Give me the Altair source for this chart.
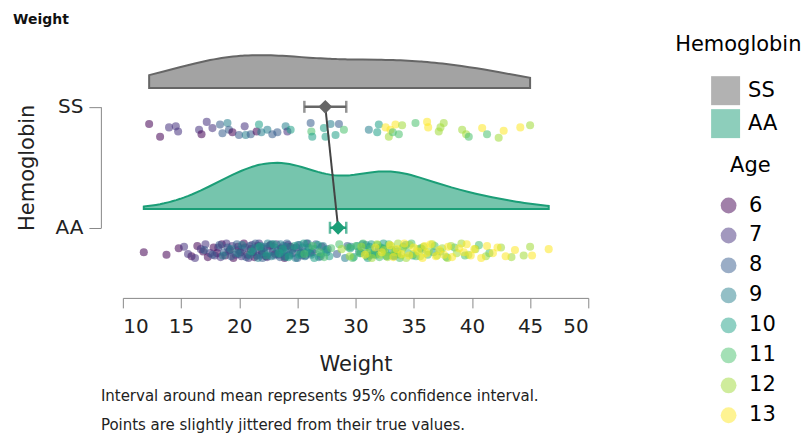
import altair as alt
import pandas as pd

FONT = "DejaVu Sans"

hemo_levels = ["SS", "AA"]
hemo_colors = ["#666666", "#1b9e77"]
age_levels = [6, 7, 8, 9, 10, 11, 12, 13]
age_colors = ["#440154", "#46327e", "#365c8d", "#277f8e", "#1fa187", "#4ac16d", "#a0da39", "#fde725"]

# SS children: (weight, age, vertical jitter in [-1, 1])
ss_points = [
    (12.26, 6, -0.73), (13.2, 6, 0.87), (13.97, 7, -0.3), (14.55, 7, -0.43), (14.75, 7, 0.22),
    (16.55, 7, 0.0), (16.76, 6, 0.57), (17.21, 7, -0.99), (17.7, 7, -0.21), (18.35, 8, -0.65),
    (18.56, 8, 0.44), (18.99, 9, -0.86), (19.12, 8, 0.0), (19.42, 6, 0.31), (19.98, 8, 0.65),
    (20.47, 7, -0.43), (20.56, 9, 0.65), (20.99, 8, 0.57), (21.5, 6, 0.22), (21.7, 10, -0.65),
    (21.9, 9, 0.31), (22.42, 9, 0.0), (22.85, 8, 0.57), (23.28, 8, 0.31), (23.99, 9, -0.43),
    (24.14, 7, 0.22), (24.42, 10, 0.0), (26.14, 8, -0.86), (26.2, 11, 0.22), (26.28, 10, 0.87),
    (27.28, 10, -0.21), (27.42, 10, 0.87), (27.85, 9, -0.73), (28.57, 8, -0.73), (29.0, 11, 0.0),
    (28.28, 10, 0.65), (31.14, 9, 0.0), (31.86, 10, 0.31), (32.0, 10, -0.65), (32.58, 13, -0.3),
    (32.86, 12, 0.87), (33.0, 13, 0.0), (33.2, 11, 0.31), (33.43, 13, -0.65), (33.72, 11, 0.57),
    (34.0, 12, -0.56), (35.15, 11, -0.86), (36.15, 13, -0.99), (36.24, 13, -0.3), (37.15, 12, 0.22),
    (37.3, 12, -0.3), (37.58, 12, -0.86), (39.16, 12, 0.0), (39.5, 12, 0.57), (39.73, 11, 0.87),
    (40.88, 13, -0.21), (41.3, 11, 0.57), (42.3, 12, 1.0), (42.73, 13, 0.13), (44.16, 13, -0.3),
    (45.0, 12, -0.56),
]

# AA children by age: (weight, vertical jitter in [-1, 1])
aa_age6 = [
    (11.8, 0.2), (13.75, 0.5), (14.8, -0.3), (15.9, 0.7), (16.4, -0.6), (16.9, 0.1), (17.3, 0.8),
    (17.8, -0.4), (18.1, 0.3), (18.5, -0.8), (18.8, 0.6), (19.2, -0.1), (19.5, 0.9), (19.9, -0.5),
    (20.1, 0.2), (20.4, -0.9), (20.7, 0.5), (21.0, -0.2), (21.3, 0.8), (21.6, -0.6), (21.9, 0.0),
    (22.3, 0.7), (22.7, -0.7), (23.1, 0.4), (23.6, -0.3), (23.9, 0.9), (24.4, -0.5), (25.3, 0.3),
]
aa_age7 = [
    (15.26, -0.5), (15.6, 0.4), (16.2, 0.9), (16.7, -0.2), (17.1, -0.8), (17.5, 0.3), (17.9, 0.6),
    (18.2, -0.4), (18.4, 0.8), (18.9, -0.9), (19.1, 0.1), (19.4, -0.6), (19.7, 0.5), (19.95, -0.1),
    (20.2, 0.7), (20.5, -0.4), (20.8, 0.9), (21.1, -0.7), (21.2, 0.2), (21.5, 0.6), (21.7, -0.9),
    (21.95, 0.4), (22.1, -0.3), (22.4, 0.8), (22.6, -0.6), (22.9, 0.1), (23.2, -0.8), (23.4, 0.5),
    (23.7, -0.2), (23.95, 0.7), (24.2, -0.7), (24.6, 0.3), (24.9, -0.4), (25.4, 0.6), (25.8, -0.9),
    (26.3, 0.2), (27.1, -0.5),
]
aa_age8 = [
    (17.0, -0.1), (17.7, 0.5), (18.3, -0.7), (18.7, 0.2), (19.0, -0.4), (19.3, 0.7), (19.8, -0.8),
    (20.0, 0.4), (20.3, -0.2), (20.6, 0.8), (20.9, -0.6), (21.2, 0.1), (21.4, -0.9), (21.8, 0.6),
    (21.9, -0.3), (22.0, 0.9), (22.2, -0.5), (22.5, 0.3), (22.8, -0.8), (23.0, 0.6), (23.3, -0.1),
    (23.5, 0.8), (23.8, -0.6), (24.0, 0.2), (24.1, -0.9), (24.3, 0.5), (24.7, -0.3), (25.0, 0.9),
    (25.2, -0.7), (25.5, 0.1), (25.7, 0.6), (25.95, -0.4), (26.1, 0.3), (26.6, -0.8), (27.0, 0.7),
    (27.6, -0.2), (28.4, 0.4), (29.3, -0.6),
]
aa_age9 = [
    (18.6, 0.6), (19.3, -0.2), (19.85, 0.3), (20.25, -0.7), (20.9, 0.5), (21.35, -0.3), (21.6, 0.9),
    (21.85, -0.6), (22.15, 0.2), (22.45, -0.9), (22.75, 0.7), (23.05, -0.4), (23.35, 0.4),
    (23.55, -0.8), (23.85, 0.1), (23.95, 0.8), (24.05, -0.5), (24.35, 0.6), (24.55, -0.1),
    (24.85, 0.9), (25.05, -0.7), (25.25, 0.3), (25.45, -0.4), (25.65, 0.7), (25.9, -0.9),
    (26.2, 0.5), (26.5, -0.2), (26.85, 0.8), (27.2, -0.6), (27.5, 0.2), (30.6, -0.8), (31.2, 0.6),
    (32.0, -0.3), (29.1, 0.9), (29.6, -0.5), (30.3, 0.1), (30.9, -0.7), (31.5, 0.4), (32.4, -0.2),
    (33.3, 0.7),
]
aa_age10 = [
    (21.05, 0.1), (21.75, -0.5), (22.35, 0.6), (22.95, -0.8), (23.45, 0.3), (23.75, -0.2),
    (24.25, 0.8), (24.75, -0.6), (25.15, 0.5), (25.55, -0.9), (25.85, 0.2), (26.05, -0.3),
    (26.45, 0.9), (26.75, -0.7), (27.05, 0.4), (27.45, -0.1), (27.75, 0.7), (31.2, -0.5),
    (31.6, 0.2), (32.4, -0.9), (33.3, 0.6), (29.55, -0.3), (29.85, 0.8), (30.15, -0.6),
    (30.45, 0.3), (30.75, -0.2), (31.05, 0.9), (31.35, -0.8), (31.75, 0.5), (32.15, -0.4),
    (32.65, 0.7), (33.1, -0.1), (33.6, 0.4), (34.3, -0.7), (34.9, 0.6), (35.6, -0.3), (36.7, 0.2),
]
aa_age11 = [
    (25.6, 0.4), (26.3, -0.6), (26.9, 0.2), (27.3, 0.8), (27.9, -0.3), (32.7, 0.6), (28.6, -0.8),
    (33.6, 0.1), (29.4, -0.4), (29.75, 0.9), (30.05, -0.6), (30.35, 0.3), (30.65, -0.9),
    (30.95, 0.7), (31.25, -0.2), (31.55, 0.5), (31.9, -0.7), (32.05, 0.8), (32.35, -0.3),
    (32.55, 0.2), (32.85, -0.8), (33.15, 0.6), (33.45, -0.1), (33.8, 0.9), (34.1, -0.5),
    (34.5, 0.3), (34.8, -0.9), (35.2, 0.7), (35.7, -0.2), (36.2, 0.5), (36.8, -0.6), (37.3, 0.1),
    (37.8, 0.8), (38.5, -0.4), (39.4, 0.6), (40.6, -0.7), (41.5, 0.3),
]
aa_age12 = [
    (28.8, -0.2), (29.5, 0.7), (30.5, -0.5), (31.0, 0.3), (31.4, 0.9), (31.85, -0.8), (32.1, 0.5),
    (32.45, -0.1), (32.75, 0.8), (33.05, -0.6), (33.35, 0.2), (33.65, -0.9), (33.9, 0.6),
    (34.05, -0.3), (34.35, 0.9), (34.65, -0.7), (34.95, 0.4), (35.3, -0.2), (35.55, 0.7),
    (35.85, -0.5), (36.3, 0.1), (36.6, -0.8), (37.0, 0.6), (37.45, -0.3), (37.9, 0.9),
    (38.2, -0.6), (38.7, 0.3), (39.1, -0.9), (39.7, 0.5), (40.3, -0.2), (41.2, 0.7), (42.5, -0.4),
    (43.4, 0.8), (44.45, 0.6), (45.0, -0.5),
]
aa_age13 = [
    (30.8, 0.5), (31.7, -0.4), (32.25, 0.2), (32.95, -0.7), (33.25, 0.8), (33.55, -0.2),
    (33.95, 0.4), (34.2, -0.9), (34.6, 0.6), (35.0, -0.4), (35.4, 0.1), (35.75, 0.9), (35.95, -0.6),
    (36.1, 0.3), (36.45, -0.8), (36.9, 0.7), (37.2, -0.1), (37.6, 0.5), (37.95, -0.5), (38.3, 0.8),
    (38.9, -0.3), (39.3, 0.2), (39.55, -0.8), (39.9, 0.6), (40.2, -0.2), (40.8, 0.9), (41.3, -0.6),
    (41.8, 0.3), (42.2, -0.4), (42.9, 0.7), (43.7, -0.1), (45.17, 0.6), (46.6, -0.2),
]

# mean and 95% CI per group
mean_weight = [27.4, 28.5]
ci_low = [25.6, 27.8]
ci_high = [29.2, 29.2]

x_ticks = [10, 15, 20, 25, 30, 35, 40, 45, 50]
footnotes = [
    "Interval around mean represents 95% confidence interval.",
    "Points are slightly jittered from their true values.",
]

# ---------------- tables ----------------
rows = [{"Hemoglobin": "SS", "Weight": w, "Age": a, "Jitter": j} for w, a, j in ss_points]
aa_by_age = {6: aa_age6, 7: aa_age7, 8: aa_age8, 9: aa_age9, 10: aa_age10,
             11: aa_age11, 12: aa_age12, 13: aa_age13}
for age, pts in aa_by_age.items():
    rows += [{"Hemoglobin": "AA", "Weight": w, "Age": age, "Jitter": j} for w, j in pts]
points_df = pd.DataFrame(rows)

stats_df = pd.DataFrame({"Hemoglobin": hemo_levels, "mean": mean_weight,
                         "lo": ci_low, "hi": ci_high})

W, H = 466, 264
Y_DOMAIN = [-0.58, 1.6]
px_per_unit = H / (Y_DOMAIN[1] - Y_DOMAIN[0])
ss_px = (Y_DOMAIN[1] - 1) * px_per_unit
aa_px = (Y_DOMAIN[1] - 0) * px_per_unit

x_scale = alt.Scale(domain=[10, 50], nice=False)
x_axis = alt.Axis(values=x_ticks, title="Weight", grid=False, tickSize=10, domainColor="#888",
                  tickColor="#888", labelFontSize=20, titleFontSize=21, titleFontWeight="normal",
                  labelFontWeight="normal", labelColor="#222", titleColor="#222",
                  labelPadding=9, titlePadding=17)
yq_scale = alt.Scale(domain=Y_DOMAIN, nice=False, zero=False)
color_scale = alt.Scale(domain=hemo_levels, range=hemo_colors)
y_nom = alt.Y("Hemoglobin:N",
              scale=alt.Scale(type="point", domain=hemo_levels, range=[ss_px, aa_px], padding=0),
              axis=alt.Axis(orient="left", title="Hemoglobin", offset=22, tickSize=12,
                            domainColor="#888", tickColor="#888", labelFontSize=20,
                            labelFontWeight="normal", titleFontSize=21, titleFontWeight="normal",
                            labelColor="#222", titleColor="#222", labelPadding=6,
                            titlePadding=18))

hemo_legend = alt.Legend(title="Hemoglobin", symbolType="square", symbolSize=841,
                         symbolOpacity=0.5, symbolStrokeWidth=0, symbolOffset=36,
                         labelFontSize=21, titleFontSize=21, titleFontWeight="normal",
                         rowPadding=4, titlePadding=21, labelOffset=8, padding=0, offset=86)
age_legend = alt.Legend(title="Age", symbolType="circle", symbolSize=250, symbolOpacity=0.5,
                        symbolStrokeWidth=0, labelFontSize=21, titleFontSize=21,
                        titleFontWeight="normal", rowPadding=8, titlePadding=19,
                        titleAnchor="middle", titleAlign="left", labelOffset=10,
                        symbolOffset=34, padding=9, offset=86)

base_pts = alt.Chart(points_df)

cloud = base_pts.transform_density(
    "Weight", groupby=["Hemoglobin"], as_=["Weight", "density"], resolve="independent"
).transform_calculate(
    base="datum.Hemoglobin == 'SS' ? 1 : 0"
).transform_calculate(
    y0="datum.base + 0.155", y1="datum.base + 0.155 + datum.density * 7.5"
).mark_area(fillOpacity=0.6, strokeWidth=2).encode(
    x=alt.X("Weight:Q", scale=x_scale, axis=x_axis),
    y=alt.Y("y1:Q", scale=yq_scale, axis=None),
    y2="y0:Q",
    color=alt.Color("Hemoglobin:N", scale=color_scale, legend=hemo_legend),
    stroke=alt.Stroke("Hemoglobin:N", scale=color_scale, legend=None),
)

rain = base_pts.transform_calculate(
    base="datum.Hemoglobin == 'SS' ? 1 : 0"
).transform_calculate(
    yp="datum.base - 0.19 - datum.Jitter * 0.066"
).mark_circle(size=65, opacity=0.55).encode(
    x=alt.X("Weight:Q", scale=x_scale),
    y=alt.Y("yp:Q", scale=yq_scale, axis=None),
    fill=alt.Fill("Age:O", scale=alt.Scale(domain=age_levels, range=age_colors),
                  legend=age_legend),
)

base_st = alt.Chart(stats_df)
ci_rule = base_st.mark_rule(strokeWidth=2.5).encode(
    x=alt.X("lo:Q", scale=x_scale), x2="hi:Q", y=y_nom,
    color=alt.Color("Hemoglobin:N", scale=color_scale, legend=hemo_legend))
cap_lo = base_st.mark_tick(orient="vertical", thickness=2.5, size=12).encode(
    x=alt.X("lo:Q", scale=x_scale), y=alt.Y("Hemoglobin:N"),
    color=alt.Color("Hemoglobin:N", scale=color_scale, legend=hemo_legend))
cap_hi = base_st.mark_tick(orient="vertical", thickness=2.5, size=12).encode(
    x=alt.X("hi:Q", scale=x_scale), y=alt.Y("Hemoglobin:N"),
    color=alt.Color("Hemoglobin:N", scale=color_scale, legend=hemo_legend))
link = base_st.mark_line(color="#444", strokeWidth=2).encode(
    x=alt.X("mean:Q", scale=x_scale), y=alt.Y("Hemoglobin:N"))
diamond = base_st.mark_point(shape="diamond", filled=True, size=190, opacity=1).encode(
    x=alt.X("mean:Q", scale=x_scale), y=alt.Y("Hemoglobin:N"),
    color=alt.Color("Hemoglobin:N", scale=color_scale, legend=hemo_legend))

summary = alt.layer(ci_rule, cap_lo, cap_hi, link, diamond)

main = alt.layer(cloud, rain, summary).resolve_scale(
    y="independent"
).properties(
    width=W, height=H,
    title=alt.TitleParams(footnotes, orient="bottom", anchor="start", frame="group", dx=-22,
                          fontSize=15, fontWeight="normal", lineHeight=29, offset=14,
                          color="#222", font=FONT),
)

chart = alt.vconcat(main).properties(
    title=alt.TitleParams("Weight", anchor="start", frame="bounds", fontSize=14,
                          fontWeight="bold", offset=7, dx=-3, color="#111", font=FONT),
    padding={"left": 5, "top": 5, "right": 0, "bottom": 0},
).configure(font=FONT, background="white").configure_view(stroke=None)

chart.save("out.html", embed_options={"renderer": "svg", "actions": False})
